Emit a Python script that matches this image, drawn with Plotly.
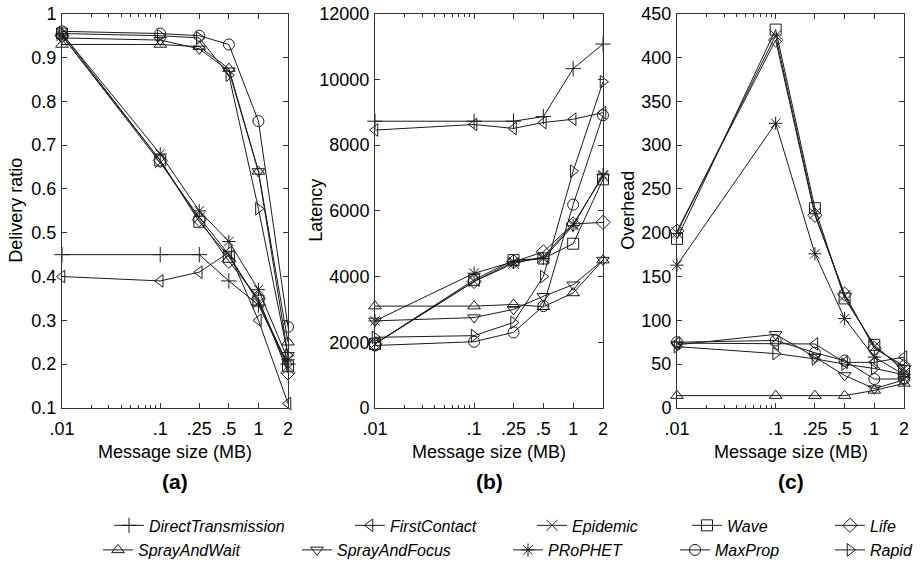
import plotly.graph_objects as go
import math

W, H = 921, 567

# ---------------- data ----------------
sizes = [0.01, 0.1, 0.25, 0.5, 1, 2]
size_labels = [".01", ".1", ".25", ".5", "1", "2"]
minor_sizes = [0.02, 0.03, 0.04, 0.05, 0.06, 0.07, 0.08, 0.09]

protocols = ["DirectTransmission", "FirstContact", "Epidemic", "Wave", "Life",
             "SprayAndWait", "SprayAndFocus", "PRoPHET", "MaxProp", "Rapid"]
marker_symbols = ["cross-thin-open", "triangle-left-open", "x-thin-open", "square-open",
                  "diamond-open", "triangle-up-open", "triangle-down-open",
                  "asterisk-open", "circle-open", "triangle-right-open"]

# (a) Delivery ratio
dr_direct = [0.45, 0.45, 0.45, 0.39, 0.335, 0.20]
dr_first = [0.40, 0.39, 0.41, 0.455, 0.30, 0.11]
dr_epidemic = [0.95, 0.66, 0.535, 0.45, 0.34, 0.19]
dr_wave = [0.955, 0.665, 0.525, 0.445, 0.345, 0.195]
dr_life = [0.95, 0.665, 0.53, 0.435, 0.35, 0.18]
dr_saw = [0.93, 0.93, 0.925, 0.875, 0.64, 0.25]
dr_saf = [0.945, 0.94, 0.92, 0.87, 0.64, 0.22]
dr_prophet = [0.955, 0.68, 0.55, 0.48, 0.37, 0.21]
dr_maxprop = [0.96, 0.955, 0.95, 0.93, 0.755, 0.285]
dr_rapid = [0.955, 0.95, 0.945, 0.86, 0.555, 0.22]

# (b) Latency
lat_direct = [8730, 8730, 8730, 8870, 10330, 11080]
lat_first = [8460, 8630, 8510, 8690, 8790, 8990]
lat_epidemic = [1950, 3850, 4400, 4600, 5600, 7050]
lat_wave = [1950, 3900, 4500, 4550, 5000, 6960]
lat_life = [1950, 3850, 4450, 4750, 5600, 5650]
lat_saw = [3100, 3100, 3150, 3080, 3500, 4500]
lat_saf = [2650, 2750, 3000, 3400, 3750, 4500]
lat_prophet = [2650, 4100, 4450, 4550, 5550, 7100]
lat_maxprop = [1900, 2015, 2300, 3100, 6190, 8910]
lat_rapid = [2150, 2200, 2600, 4000, 7210, 9930]

# (c) Overhead
ov_first = [74, 73, 73, 52, 52, 58]
ov_epidemic = [200, 425, 222, 128, 70, 45]
ov_wave = [193, 432, 228, 125, 72, 42]
ov_life = [202, 420, 220, 130, 68, 48]
ov_saw = [14, 14, 14, 14, 20, 28]
ov_saf = [72, 84, 58, 37, 22, 32]
ov_prophet = [163, 325, 176, 102, 58, 38]
ov_maxprop = [75, 77, 63, 54, 33, 33]
ov_rapid = [70, 62, 56, 50, 45, 38]

# y-axis ticks
dr_ticks = [0.1, 0.2, 0.3, 0.4, 0.5, 0.6, 0.7, 0.8, 0.9, 1]
dr_tick_labels = ["0.1", "0.2", "0.3", "0.4", "0.5", "0.6", "0.7", "0.8", "0.9", "1"]
lat_ticks = [0, 2000, 4000, 6000, 8000, 10000, 12000]
lat_tick_labels = ["0", "2000", "4000", "6000", "8000", "10000", "12000"]
ov_ticks = [0, 50, 100, 150, 200, 250, 300, 350, 400, 450]
ov_tick_labels = ["0", "50", "100", "150", "200", "250", "300", "350", "400", "450"]

panel_a = [dr_direct, dr_first, dr_epidemic, dr_wave, dr_life,
           dr_saw, dr_saf, dr_prophet, dr_maxprop, dr_rapid]
panel_b = [lat_direct, lat_first, lat_epidemic, lat_wave, lat_life,
           lat_saw, lat_saf, lat_prophet, lat_maxprop, lat_rapid]
panel_c = [None, ov_first, ov_epidemic, ov_wave, ov_life,
           ov_saw, ov_saf, ov_prophet, ov_maxprop, ov_rapid]

# ---------------- layout geometry (pixels) ----------------
def px_x(p):
    return p / W

def px_y(p):
    return 1 - p / H

x_domains = [(62, 288), (375, 603), (677, 904)]
y_top, y_bot = 14, 413

# legend text start positions (pixels) and rows
legend_text_x = [149, 390, 572, 727, 870, 138, 337, 548, 715, 870]
legend_row_y = [532, 532, 532, 532, 532, 557, 557, 557, 557, 557]

LINE_COLOR = "#1a1a1a"
AX_COLOR = "#333333"
FONT = "Liberation Sans, Arial, sans-serif"

fig = go.Figure()

panels = [panel_a, panel_b, panel_c]
for pi, panel in enumerate(panels):
    xa = "x" if pi == 0 else f"x{pi + 1}"
    ya = "y" if pi == 0 else f"y{pi + 1}"
    for k, vals in enumerate(panel):
        if vals is None:
            continue
        fig.add_trace(go.Scatter(
            x=sizes, y=vals, mode="lines+markers", name=protocols[k],
            xaxis=xa, yaxis=ya,
            line=dict(color=LINE_COLOR, width=1),
            marker=dict(symbol=marker_symbols[k], size=11, color=LINE_COLOR,
                        line=dict(color=LINE_COLOR, width=1)),
            showlegend=(pi == 0),
            legend="legend" if k == 0 else f"legend{k + 1}",
            cliponaxis=False,
        ))

layout = dict(
    width=W, height=H,
    margin=dict(l=0, r=0, t=0, b=0),
    paper_bgcolor="white", plot_bgcolor="white",
    font=dict(family=FONT, size=18, color="black"),
    showlegend=True,
)

y_ranges = [[0.1, 1], [0, 12000], [0, 450]]
y_ticks = [(dr_ticks, dr_tick_labels), (lat_ticks, lat_tick_labels), (ov_ticks, ov_tick_labels)]
for pi in range(3):
    xk = "xaxis" if pi == 0 else f"xaxis{pi + 1}"
    yk = "yaxis" if pi == 0 else f"yaxis{pi + 1}"
    ya = "y" if pi == 0 else f"y{pi + 1}"
    xa = "x" if pi == 0 else f"x{pi + 1}"
    layout[xk] = dict(
        domain=[px_x(x_domains[pi][0]), px_x(x_domains[pi][1])],
        anchor=ya, type="log",
        range=[math.log10(sizes[0]), math.log10(sizes[-1])],
        tickmode="array", tickvals=sizes, ticktext=size_labels,
        ticks="inside", ticklen=5, tickcolor=AX_COLOR, tickwidth=1,
        ticklabelstandoff=4,
        minor=dict(tickmode="array", tickvals=minor_sizes, ticks="inside",
                   ticklen=3, tickcolor=AX_COLOR, tickwidth=1, showgrid=False),
        showline=True, linecolor=AX_COLOR, linewidth=1, mirror="ticks",
        showgrid=False, zeroline=False, automargin=False,
        tickfont=dict(size=18, family=FONT),
    )
    layout[yk] = dict(
        domain=[px_y(y_bot), px_y(y_top)],
        anchor=xa, range=y_ranges[pi],
        tickmode="array", tickvals=y_ticks[pi][0], ticktext=y_ticks[pi][1],
        ticks="inside", ticklen=5, tickcolor=AX_COLOR, tickwidth=1,
        ticklabelstandoff=1,
        showline=True, linecolor=AX_COLOR, linewidth=1, mirror="ticks",
        showgrid=False, zeroline=False, automargin=False,
        tickfont=dict(size=18, family=FONT),
    )

annotations = []
y_titles = ["Delivery ratio", "Latency", "Overhead"]
y_title_x = [16, 316, 628]
sub_labels = ["(a)", "(b)", "(c)"]
for pi in range(3):
    cx = (x_domains[pi][0] + x_domains[pi][1]) / 2
    annotations.append(dict(text="Message size (MB)", x=px_x(cx), y=px_y(458),
                            xref="paper", yref="paper", showarrow=False,
                            xanchor="center", yanchor="middle",
                            font=dict(size=18, family=FONT)))
    annotations.append(dict(text="<b>" + sub_labels[pi] + "</b>", x=px_x(cx), y=px_y(488),
                            xref="paper", yref="paper", showarrow=False,
                            xanchor="center", yanchor="middle",
                            font=dict(size=21, family=FONT)))
    annotations.append(dict(text=y_titles[pi], x=px_x(y_title_x[pi]),
                            y=px_y((y_top + y_bot) / 2), textangle=-90,
                            xref="paper", yref="paper", showarrow=False,
                            xanchor="center", yanchor="middle",
                            font=dict(size=18, family=FONT)))
layout["annotations"] = annotations

for k in range(10):
    lk = "legend" if k == 0 else f"legend{k + 1}"
    layout[lk] = dict(
        x=px_x(legend_text_x[k] - 40), y=px_y(legend_row_y[k]),
        xanchor="left", yanchor="middle", orientation="h",
        bgcolor="rgba(0,0,0,0)", borderwidth=0,
        font=dict(size=16, family=FONT, style="italic", color="black"),
        itemclick=False, itemdoubleclick=False,
    )

fig.update_layout(**layout)
fig.write_html("out.html")
